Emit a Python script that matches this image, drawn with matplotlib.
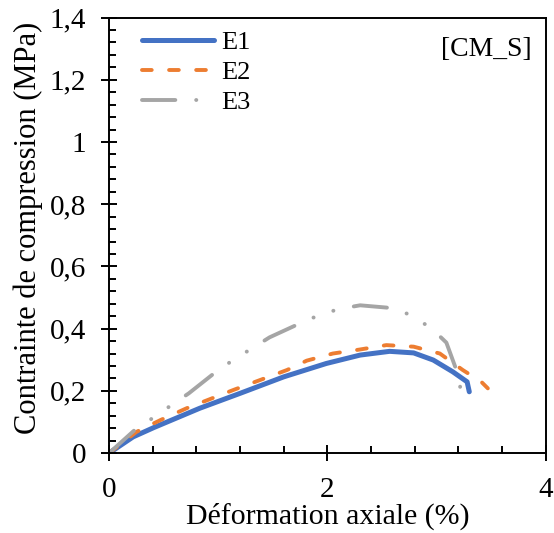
import numpy as np
import matplotlib
matplotlib.use('Agg')
import matplotlib.pyplot as plt
from matplotlib.ticker import MultipleLocator, FuncFormatter

# Courbes contrainte-déformation
e1_x = [0, 0.22, 0.41, 0.83, 1.20, 1.60, 1.99, 2.30, 2.57, 2.79, 2.97, 3.15, 3.28, 3.30]
e1_y = [0, 0.052, 0.082, 0.144, 0.192, 0.245, 0.288, 0.315, 0.327, 0.322, 0.299, 0.261, 0.229, 0.197]

e2_x = [0, 0.25, 0.47, 0.71, 1.14, 1.63, 1.81, 2.05, 2.30, 2.54, 2.79, 3.03, 3.24, 3.41, 3.47]
e2_y = [0, 0.068, 0.106, 0.144, 0.203, 0.267, 0.297, 0.320, 0.333, 0.347, 0.342, 0.320, 0.267, 0.229, 0.208]

e3_x = [0, 0.25, 0.42, 0.57, 0.73, 1.00, 1.15, 1.32, 1.47, 1.78, 1.95, 2.12, 2.30, 2.63, 2.80, 2.96, 3.09, 3.21, 3.22]
e3_y = [0, 0.079, 0.117, 0.154, 0.192, 0.267, 0.302, 0.339, 0.372, 0.422, 0.447, 0.464, 0.475, 0.465, 0.436, 0.399, 0.355, 0.240, 0.195]

plt.rcParams['font.family'] = ['Liberation Serif', 'DejaVu Serif']
plt.rcParams['lines.scale_dashes'] = False

fig = plt.figure(figsize=(5.54, 5.33), dpi=100)
ax = fig.add_axes([0.197, 0.150, 0.788, 0.817])

ax.plot(e1_x, e1_y, color='#4472C4', lw=3.6, solid_capstyle='round', label='E1')
ax.plot(e2_x, e2_y, color='#ED7D31', lw=2.8, dashes=(7, 12.5), dash_capstyle='round', label='E2')
ax.plot(e3_x, e3_y, color='#A5A5A5', lw=2.8, dashes=(24, 15, 0.1, 15, 0.1, 15), dash_capstyle='round', label='E3')

ax.set_xlim(0, 4)
ax.set_ylim(0, 1.4)
ax.xaxis.set_major_locator(MultipleLocator(2))
ax.xaxis.set_minor_locator(MultipleLocator(0.4))
ax.yaxis.set_major_locator(MultipleLocator(0.2))
ax.yaxis.set_minor_locator(MultipleLocator(0.04))

fmt = FuncFormatter(lambda v, p: ('%g' % round(v, 2)).replace('.', ','))
ax.xaxis.set_major_formatter(fmt)
ax.yaxis.set_major_formatter(fmt)

ax.tick_params(which='major', direction='inout', length=12, width=1.4, labelsize=21)
ax.tick_params(axis='x', which='major', pad=11)
ax.tick_params(axis='y', which='major', pad=10.5)
ax.tick_params(which='minor', direction='in', length=5, width=1.4)
for s in ax.spines.values():
    s.set_linewidth(1.4)

ax.set_xlabel('Déformation axiale (%)', fontsize=21.5, labelpad=0)
ax.set_ylabel('Contrainte de compression (MPa)', fontsize=22, labelpad=5, y=0.518)

ax.text(0.967, 0.926, '[CM_S]', transform=ax.transAxes, fontsize=20, ha='right', va='center')

ax.legend(loc='upper left', frameon=False, fontsize=19, handlelength=2.7,
          handletextpad=0.27, labelspacing=0.25, borderaxespad=0.0, bbox_to_anchor=(0.052, 0.994))

fig.savefig('out.png', dpi=100)
